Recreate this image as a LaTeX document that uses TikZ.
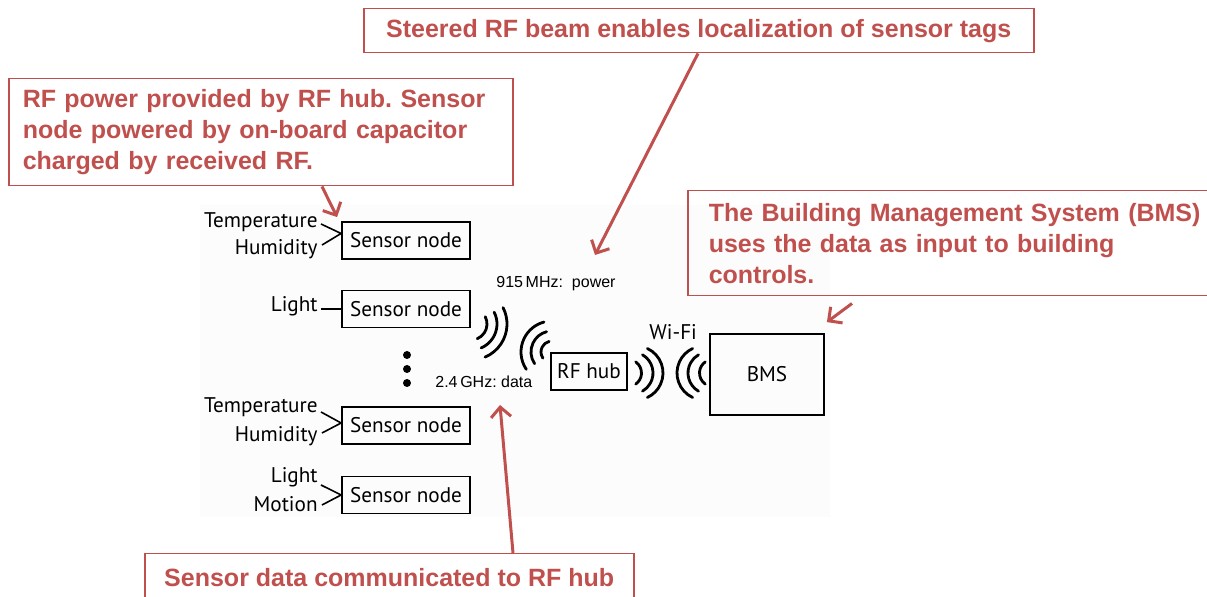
\documentclass[tikz,border=0pt]{standalone}
\usepackage{fontspec}
\setmainfont{Liberation Sans}
\newfontfamily\diagfont{PT Sans}
\usetikzlibrary{arrows.meta,calc}
\definecolor{calred}{HTML}{C0504D}
\frenchspacing

\begin{document}
\begin{tikzpicture}[x=0.5pt,y=-0.5pt,
  callout/.style={draw=calred, line width=0.75pt, text=calred,
    font=\bfseries\fontsize{12.5}{15.5}\selectfont, inner sep=0pt},
  callarrow/.style={draw=calred, line width=1.5pt,
    -{Straight Barb[length=5pt,width=10pt]}},
  sensor/.style={draw, line width=0.9pt, minimum width=64pt,
    minimum height=18.5pt, inner sep=0pt,
    font=\diagfont\fontsize{10.6}{12}\selectfont},
  lab/.style={inner sep=0pt, font=\diagfont\fontsize{10.6}{12}\selectfont},
  freqlab/.style={inner sep=0pt, font=\fontsize{8}{9.5}\selectfont},
  wire/.style={line width=0.8pt},
  wave/.style={line width=1.4pt, line cap=round},
]
\clip (0,0) rectangle (1207,597);

% faint panel behind the system sketch
\fill[black!1] (200,205) rectangle (830,517);

% sensor nodes and their inputs
\node[sensor] (s1) at (406,240.5) {Sensor node};
\node[sensor] (s2) at (406,309) {Sensor node};
\node[sensor] (s3) at (406,425.5) {Sensor node};
\node[sensor] (s4) at (406,495) {Sensor node};

\node[lab, anchor=base east] (t1) at (318,228) {Temperature};
\node[lab, anchor=base east] (h1) at (318,255) {Humidity};
\node[lab, anchor=base east] (l2) at (318,312) {Light};
\node[lab, anchor=base east] (t3) at (318,413) {Temperature};
\node[lab, anchor=base east] (h3) at (318,442) {Humidity};
\node[lab, anchor=base east] (l4) at (318,483) {Light};
\node[lab, anchor=base east] (m4) at (318,512) {Motion};

\draw[wire] ($(t1.base east)+(3,-4)$) -- ($(s1.west)+(0,-7)$) -- ($(h1.base east)+(4,-10)$);
\draw[wire] ($(l2.base east)+(3,-3)$) -- (s2.west);
\draw[wire] ($(t3.base east)+(3,-1)$) -- ($(s3.west)+(0,-2.5)$) -- ($(h3.base east)+(4,-9)$);
\draw[wire] ($(l4.base east)+(3,2)$) -- (s4.west) -- ($(m4.base east)+(4,-7)$);

% ellipsis between the node groups
\fill (407,355) circle[radius=4];
\fill (407,369) circle[radius=4];
\fill (407,383) circle[radius=4];

% hub and building system
\node[sensor, minimum width=38pt] (hub) at (589,371.5) {RF hub};
\node[sensor, minimum width=57pt, minimum height=40.5pt] (bms) at (767,374.5) {BMS};

\node[freqlab, anchor=base west] (f1) at (496,288) {915\,MHz:\ \ power};
\node[freqlab, anchor=base west] (f2) at (435,388) {2.4\,GHz:\ data};
\node[lab, anchor=base west] (wifi) at (649,340) {Wi-Fi};

% radio waves: sensor side and hub side
\coordinate (wa) at (471,324);
\coordinate (wb) at (552,352);
\foreach \r in {16,26,36}
  \draw[wave] ($(wa)+(-27:\r)$) arc[start angle=-27, end angle=67, radius=\r];
\foreach \r in {11,21,31}
  \draw[wave] ($(wb)+(146:\r)$) arc[start angle=146, end angle=255, radius=\r];

% radio waves: Wi-Fi link (center x, radius, half span)
\foreach \cx/\r/\s in {628/13.5/55, 632/21/60, 636/27/65}
  \draw[wave] ($(\cx,373)+(-\s:\r)$) arc[start angle=-\s, end angle=\s, radius=\r];
\foreach \cx/\r/\s in {713/13.5/55, 709/21/60, 704/27/65}
  \draw[wave] ($(\cx,373)+(180-\s:\r)$) arc[start angle=180-\s, end angle=180+\s, radius=\r];

% callouts
\node[callout, anchor=north west, minimum width=252pt, minimum height=53.5pt,
  text width=238pt, inner xsep=7pt, align=left] (c1) at (8,78)
  {RF power provided by RF hub. Sensor\\node powered by on-board capacitor\\charged by received RF.};
\node[callout, anchor=north west, minimum width=335pt, minimum height=22pt] (c2) at (363,8)
  {Steered RF beam enables localization of sensor tags};
\node[callout, anchor=north west, minimum width=276.5pt, minimum height=52.5pt,
  text width=266pt, inner xsep=10.5pt, align=left] (c3) at (687,190)
  {The Building Management System (BMS)\\uses the data as input to building\\controls.};
\node[callout, anchor=north west, minimum width=244.5pt, minimum height=23.5pt] (c4) at (144,553)
  {Sensor data communicated to RF hub};

\coordinate (tipbeam) at (595,255);
\coordinate (tipdata) at (500,405);
\draw[callarrow] ($(c1.south west)+(314,0)$) -- ($(s1.north west)+(-4,-4)$);
\draw[callarrow] ($(c2.south west)+(335,0)$) -- (tipbeam);
\draw[callarrow] ($(c4.north west)+(369,0)$) -- (tipdata);
\draw[callarrow] ($(c3.south west)+(165,7)$) -- ($(bms.north east)+(2,-11)$);
\end{tikzpicture}
\end{document}
